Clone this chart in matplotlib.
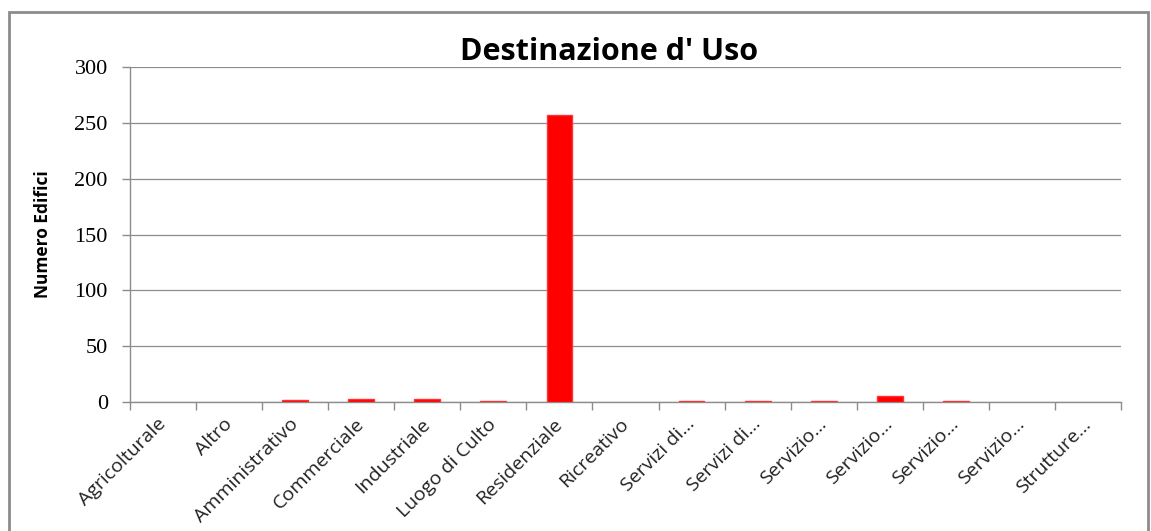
import matplotlib.pyplot as plt
from matplotlib.patches import Rectangle

# Dati: numero di edifici per destinazione d'uso
categorie = ['Agricolturale', 'Altro', 'Amministrativo', 'Commerciale', 'Industriale',
             'Luogo di Culto', 'Residenziale', 'Ricreativo', 'Servizi di…', 'Servizi di…',
             'Servizio…', 'Servizio…', 'Servizio…', 'Servizio…', 'Strutture…']
valori = [0, 0, 2, 3, 3, 1, 257, 0, 1, 1, 1, 5, 1, 0, 0]

fig = plt.figure(figsize=(11.51, 5.31), dpi=100)
ax = fig.add_axes([130 / 1151, 1 - 402 / 531, 991 / 1151, 335 / 531])

x = list(range(len(categorie)))
bordi = [1.0 if v > 0 else 0 for v in valori]
ax.bar(x, valori, width=0.39, color='#ff0000', edgecolor='#ff3333', linewidth=bordi, zorder=3)

ax.set_xlim(-0.5, len(categorie) - 0.5)
ax.set_ylim(0, 300)
ax.set_yticks(range(0, 301, 50))
ax.yaxis.grid(True, color='#8c8c8c', linewidth=0.9)
ax.set_axisbelow(True)

for s in ['top', 'right']:
    ax.spines[s].set_visible(False)
for s in ['left', 'bottom']:
    ax.spines[s].set_color('#8c8c8c')
    ax.spines[s].set_linewidth(1.0)

# tick sulle separazioni tra categorie
ax.set_xticks([i - 0.5 for i in range(len(categorie) + 1)], minor=False)
ax.set_xticklabels([])
ax.set_xticks(x, minor=True)
ax.set_xticklabels(categorie, minor=True, rotation=45, ha='right', va='center',
                   rotation_mode='anchor', fontsize=14, family='Open Sans', color='#222222')
ax.tick_params(axis='x', which='major', length=6, color='#8c8c8c', width=1)
ax.tick_params(axis='x', which='minor', length=0, pad=14)
ax.tick_params(axis='y', length=6, color='#8c8c8c', width=1, pad=10)
for t in ax.get_yticklabels():
    t.set_family('Liberation Serif')
    t.set_fontsize(16)

ax.set_ylabel('Numero Edifici', fontsize=12.5, fontweight='bold', family='Open Sans', labelpad=16)
fig.text(0.529, 0.903, "Destinazione d' Uso", ha='center', va='center',
         fontsize=22, fontweight='bold', family='Open Sans')

# cornice esterna del grafico
fig.patches.append(Rectangle((9 / 1151, -0.05), 1139 / 1151, 1 - 12 / 531 + 0.05,
                             transform=fig.transFigure, fill=False,
                             edgecolor='#8c8c8c', linewidth=2))

fig.savefig('out.png', dpi=100)
